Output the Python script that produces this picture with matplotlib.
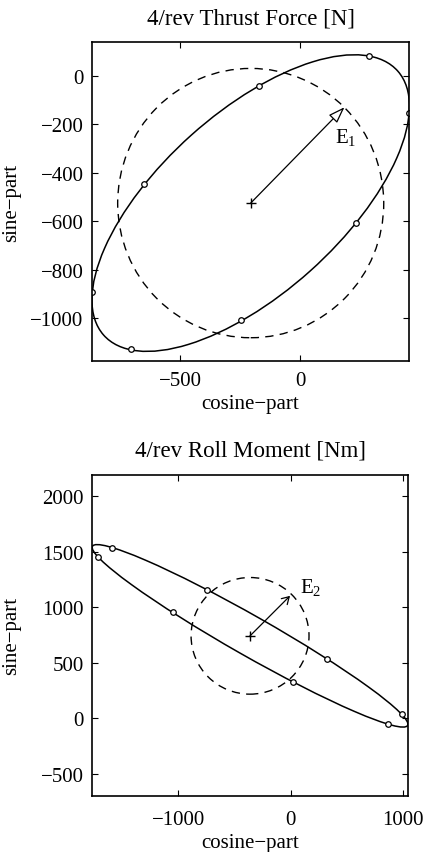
import numpy as np
import matplotlib
matplotlib.use('Agg')
import matplotlib.pyplot as plt
from matplotlib.patches import Ellipse, Circle, FancyArrowPatch

plt.rcParams['font.family'] = ['Liberation Serif', 'DejaVu Serif']
plt.rcParams['font.size'] = 15
plt.rcParams['mathtext.fontset'] = 'custom'
plt.rcParams['mathtext.rm'] = 'Liberation Serif'
plt.rcParams['xtick.direction'] = 'in'
plt.rcParams['ytick.direction'] = 'in'

# 4/rev thrust force: response ellipse, sample points, mean and E1 vector
thrust_center = (-206, -525)
thrust_ell = (1640, 748, 41.5)      # width, height, angle of response ellipse
thrust_cos = [289, 455, 233, -245, -704, -867, -652, -170]
thrust_sin = [80, -154, -607, -1007, -1127, -893, -447, -41]
thrust_E1 = (185, -130)
thrust_radius = 555
thrust_xlim = (-868, 455)
thrust_ylim = (-1176, 139)
thrust_xticks = [-500, 0]
thrust_yticks = [-1000, -800, -600, -400, -200, 0]

# 4/rev roll moment
roll_center = (-362, 744)
roll_ell = (3236, 358, -29.9)
roll_cos = [-1594, -1713, -748, -1045, 321, 23, 988, 864]
roll_sin = [1534, 1450, 1156, 955, 540, 330, 39, -51]
roll_E2 = (-6, 1104)
roll_radius = 525
roll_xlim = (-1769, 1047)
roll_ylim = (-695, 2192)
roll_xticks = [-1000, 0, 1000]
roll_yticks = [-500, 0, 500, 1000, 1500, 2000]

fig = plt.figure(figsize=(4.24, 8.53), dpi=100)
ax1 = fig.add_axes([0.217, 0.5756, 0.748, 0.374])
ax2 = fig.add_axes([0.217, 0.066, 0.746, 0.376])


def draw(ax, center, ell, xs, ys, tip, radius, label, head):
    ax.add_patch(Ellipse(center, ell[0], ell[1], angle=ell[2], fill=False,
                         ec='k', lw=1.1))
    ax.add_patch(Circle(center, radius, fill=False, ec='k', lw=1.0,
                        ls=(0, (6, 4.5))))
    ax.plot(xs, ys, 'o', ms=4, mfc='white', mec='k', mew=0.9)
    ax.plot(center[0], center[1], '+', ms=7, mec='k', mew=1)
    ax.add_patch(FancyArrowPatch(center, tip, arrowstyle=head,
                                 mutation_scale=10, fc='white', ec='k',
                                 lw=0.9, shrinkA=0, shrinkB=0))
    ax.text(label[1], label[2], label[0], ha='left', va='center', fontsize=15)


draw(ax1, thrust_center, thrust_ell, thrust_cos, thrust_sin, thrust_E1,
     thrust_radius, ('E$_1$', 145, -255), '-|>,head_length=1.0,head_width=0.35')
ax1.set_xlim(*thrust_xlim)
ax1.set_ylim(*thrust_ylim)
ax1.set_xticks(thrust_xticks)
ax1.set_yticks(thrust_yticks)
ax1.set_title('4/rev Thrust Force [N]', pad=13, fontsize=16.5)

draw(ax2, roll_center, roll_ell, roll_cos, roll_sin, roll_E2,
     roll_radius, ('E$_2$', 80, 1180), '->,head_length=0.5,head_width=0.3')
ax2.set_xlim(*roll_xlim)
ax2.set_ylim(*roll_ylim)
ax2.set_xticks(roll_xticks)
ax2.set_yticks(roll_yticks)
ax2.set_title('4/rev Roll Moment [Nm]', pad=14, fontsize=16.5)

for ax, xpad in ((ax1, 7), (ax2, 10)):
    ax.set_xlabel('cosine\u2212part', labelpad=3)
    ax.set_ylabel('sine\u2212part')
    ax.yaxis.set_label_coords(-0.225, 0.5)
    ax.tick_params(top=True, right=True, length=4, width=0.8, pad=6)
    ax.tick_params(axis='x', pad=xpad)
    for s in ax.spines.values():
        s.set_linewidth(1.2)

fig.savefig('out.png', dpi=100)
